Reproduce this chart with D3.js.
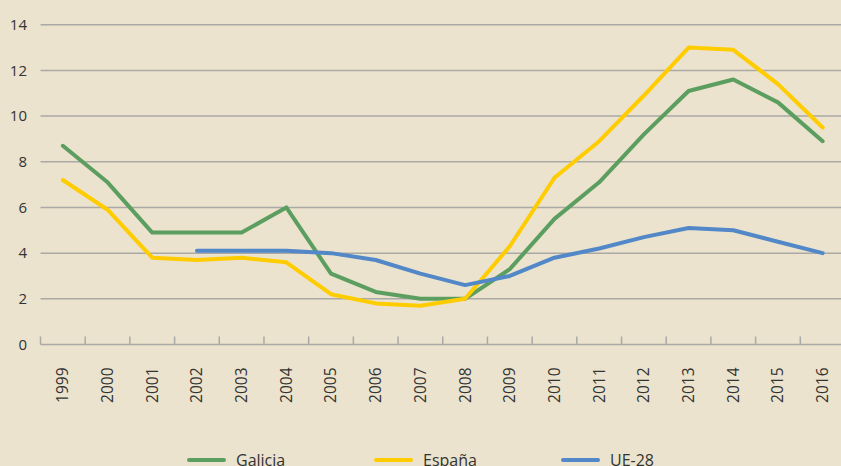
<!DOCTYPE html>
<html>

<head>
    <meta charset="utf-8">
    <title>Galicia / España / UE-28</title>
    <script src="https://d3js.org/d3.v7.min.js"></script>
    <style>
        body { margin: 0; background: #ebe3cd; }
        text { font-family: "Open Sans", sans-serif; fill: #333; }
    </style>
</head>

<body>
    <script type="text/javascript">
        // values
        let years = ["1999", "2000", "2001", "2002", "2003", "2004", "2005", "2006", "2007",
            "2008", "2009", "2010", "2011", "2012", "2013", "2014", "2015", "2016"];
        let galicia = [8.7, 7.1, 4.9, 4.9, 4.9, 6.0, 3.1, 2.3, 2.0, 2.0, 3.3, 5.5, 7.1, 9.2, 11.1, 11.6, 10.6, 8.9];
        let espana = [7.2, 5.9, 3.8, 3.7, 3.8, 3.6, 2.2, 1.8, 1.7, 2.0, 4.3, 7.3, 8.9, 10.9, 13.0, 12.9, 11.4, 9.5];
        let ue28 = [null, null, null, 4.1, 4.1, 4.1, 4.0, 3.7, 3.1, 2.6, 3.0, 3.8, 4.2, 4.7, 5.1, 5.0, 4.5, 4.0];
        let yTicks = [0, 2, 4, 6, 8, 10, 12, 14];

        let series = [
            { name: "Galicia", values: galicia, color: "#5c9e5f" },
            { name: "España", values: espana, color: "#ffcc00" },
            { name: "UE-28", values: ue28, color: "#5287c8" }
        ];

        let width = 841, height = 466;
        let plotLeft = 40.5, plotRight = 845, plotTop = 24.7, plotBottom = 344.5;

        let svg = d3.select("body").append("svg")
            .attr("width", width)
            .attr("height", height);

        let x = d3.scaleBand().domain(years).range([plotLeft, plotRight]);
        let y = d3.scaleLinear().domain([0, 14]).range([plotBottom, plotTop]);

        // gridlines
        svg.append("g")
            .selectAll("line")
            .data(yTicks)
            .join("line")
            .attr("x1", plotLeft)
            .attr("x2", width)
            .attr("y1", d => y(d))
            .attr("y2", d => y(d))
            .attr("stroke", "#aaa9a6")
            .attr("stroke-width", 1.5);

        // y labels
        svg.append("g")
            .selectAll("text")
            .data(yTicks)
            .join("text")
            .attr("x", 27)
            .attr("y", d => y(d))
            .attr("dy", "0.35em")
            .attr("text-anchor", "end")
            .style("font-size", "15px")
            .text(d => d);

        // x ticks at category boundaries
        let bounds = years.map(d => x(d)).concat([plotRight]);
        svg.append("g")
            .selectAll("line")
            .data(bounds)
            .join("line")
            .attr("x1", d => d)
            .attr("x2", d => d)
            .attr("y1", plotBottom)
            .attr("y2", plotBottom - 8)
            .attr("stroke", "#aaa9a6")
            .attr("stroke-width", 1.5);

        // rotated year labels
        svg.append("g")
            .selectAll("text")
            .data(years)
            .join("text")
            .attr("transform", d => "translate(" + (x(d) + x.bandwidth() / 2) + "," + (plotBottom + 23) + ") rotate(-90)")
            .attr("dy", "0.35em")
            .attr("text-anchor", "end")
            .style("font-size", "15.5px")
            .text(d => d);

        let line = d3.line()
            .defined(d => d != null)
            .x((d, i) => x(years[i]) + x.bandwidth() / 2)
            .y(d => y(d));

        svg.append("g")
            .selectAll("path")
            .data(series)
            .join("path")
            .attr("d", d => line(d.values))
            .attr("fill", "none")
            .attr("stroke", d => d.color)
            .attr("stroke-width", 4)
            .attr("stroke-linejoin", "round")
            .attr("stroke-linecap", "round");

        // legend
        let legendX = [189, 376, 563];
        let legend = svg.append("g")
            .selectAll("g")
            .data(series)
            .join("g")
            .attr("transform", (d, i) => "translate(" + legendX[i] + ",460)");
        legend.append("line")
            .attr("x1", 0)
            .attr("x2", 35)
            .attr("stroke", d => d.color)
            .attr("stroke-width", 4)
            .attr("stroke-linecap", "round");
        legend.append("text")
            .attr("x", 47)
            .attr("dy", "0.35em")
            .style("font-size", "16px")
            .text(d => d.name);
    </script>
</body>

</html>
